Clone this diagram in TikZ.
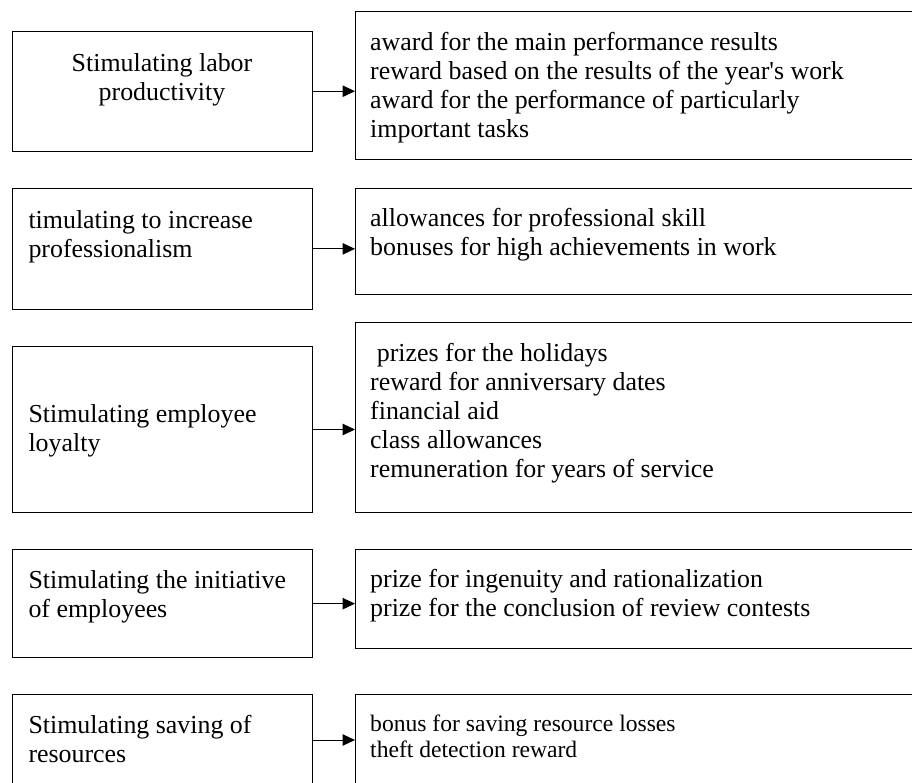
\documentclass[tikz,border=0pt]{standalone}
\usepackage{fontspec}
\newfontfamily\rawserif{Liberation Serif}
\usetikzlibrary{arrows.meta}
\begin{document}
\begin{tikzpicture}[x=1pt,y=-1pt,
  box/.style={draw, line width=1pt, anchor=north west, inner sep=0pt},
  lbox/.style={box, minimum width=300.6pt},
  rbox/.style={box, minimum width=575pt},
  txt/.style={inner sep=0pt, font=\rawserif\fontsize{25.9}{29}\selectfont},
  smalltxt/.style={inner sep=0pt, font=\rawserif\fontsize{23.6}{25.7}\selectfont},
  conn/.style={line width=1pt, -{Triangle[length=12.5pt,width=11.5pt]}}
]
\useasboundingbox (0,0) rectangle (912,782);
\fill[white] (0,0) rectangle (912,782);
\clip (0,0) rectangle (912,782);

% left boxes
\node[lbox, minimum height=120pt]   (L1) at (11.7,30.7)  {};
\node[lbox, minimum height=121.3pt] (L2) at (11.7,187.7) {};
\node[lbox, minimum height=166.6pt] (L3) at (11.7,345.7) {};
\node[lbox, minimum height=108.3pt] (L4) at (11.7,549)   {};
\node[lbox, minimum height=91pt]    (L5) at (11.7,694)   {};

% right boxes
\node[rbox, minimum height=148.6pt] (R1) at (355,10.7)  {};
\node[rbox, minimum height=105.2pt] (R2) at (355,188.3) {};
\node[rbox, minimum height=190.3pt] (R3) at (355,322)   {};
\node[rbox, minimum height=98.7pt]  (R4) at (355,549)   {};
\node[rbox, minimum height=100pt]   (R5) at (355,694)   {};

% left texts
\node[txt, anchor=base] (tL1) at (162,71.7)
  {\begin{tabular}[t]{@{}c@{}}Stimulating labor\\productivity\end{tabular}};
\node[txt, anchor=base west] (tL2) at (28.3,228.3)
  {\begin{tabular}[t]{@{}l@{}}timulating to increase\\professionalism\end{tabular}};
\node[txt, anchor=base west] (tL3) at (28.3,422.7)
  {\begin{tabular}[t]{@{}l@{}}Stimulating employee\\loyalty\end{tabular}};
\node[txt, anchor=base west] (tL4) at (28.3,588.3)
  {\begin{tabular}[t]{@{}l@{}}Stimulating the initiative\\of employees\end{tabular}};
\node[txt, anchor=base west] (tL5) at (28.3,733.3)
  {\begin{tabular}[t]{@{}l@{}}Stimulating saving of\\resources\end{tabular}};

% right texts
\node[txt, anchor=base west] (tR1) at (370,50.7)
  {\begin{tabular}[t]{@{}l@{}}award for the main performance results\\reward based on the results of the year's work\\award for the performance of particularly\\important tasks\end{tabular}};
\node[txt, anchor=base west] (tR2) at (370,226.7)
  {\begin{tabular}[t]{@{}l@{}}allowances for professional skill\\bonuses for high achievements in work\end{tabular}};
\node[txt, anchor=base west] (tR3) at (370,361.7)
  {\begin{tabular}[t]{@{}l@{}}\hspace{6.7pt}prizes for the holidays\\reward for anniversary dates\\financial aid\\class allowances\\remuneration for years of service\end{tabular}};
\node[txt, anchor=base west] (tR4) at (370,587)
  {\begin{tabular}[t]{@{}l@{}}prize for ingenuity and rationalization\\prize for the conclusion of review contests\end{tabular}};
\node[smalltxt, anchor=base west] (tR5) at (370,731.7)
  {\begin{tabular}[t]{@{}l@{}}bonus for saving resource losses\\theft detection reward\end{tabular}};

% connectors
\draw[conn] (L1.east) -- (L1.east -| R1.west);
\draw[conn] (L2.east) -- (L2.east -| R2.west);
\draw[conn] (L3.east) -- (L3.east -| R3.west);
\draw[conn] (L4.east) -- (L4.east -| R4.west);
\draw[conn] (L5.east) -- (L5.east -| R5.west);
\end{tikzpicture}
\end{document}
